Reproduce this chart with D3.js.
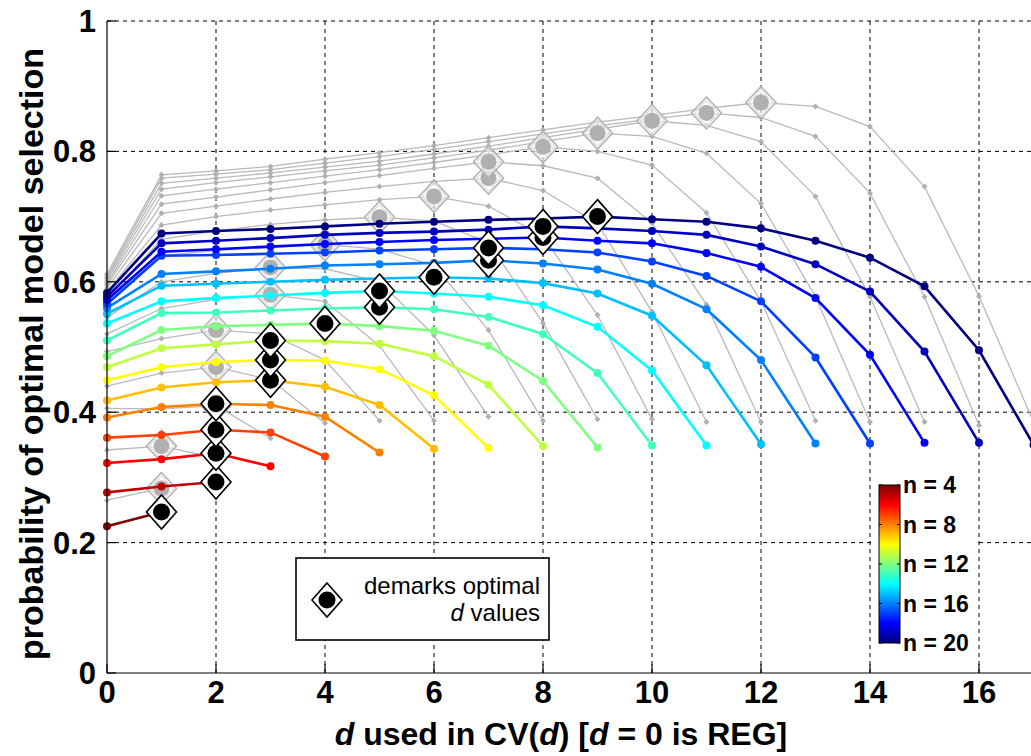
<!DOCTYPE html>
<html><head><meta charset="utf-8">
<script src="https://cdn.jsdelivr.net/npm/d3@7"></script>
<style>body{margin:0;background:#fff}svg{display:block}</style>
</head><body>
<svg id="c" width="1031" height="756"></svg>
<script>
// ---------------- data ----------------
const nValues = [4,5,6,7,8,9,10,11,12,13,14,15,16,17,18,19,20];
// coloured series: probability at d = 0..(n-3)
const c04 = [0.225, 0.247];
const c05 = [0.277, 0.286, 0.293];
const c06 = [0.322, 0.328, 0.337, 0.317];
const c07 = [0.361, 0.365, 0.373, 0.369, 0.332];
const c08 = [0.392, 0.408, 0.413, 0.411, 0.393, 0.338];
const c09 = [0.418, 0.438, 0.446, 0.449, 0.439, 0.411, 0.344];
const c10 = [0.449, 0.469, 0.477, 0.480, 0.479, 0.466, 0.426, 0.345];
const c11 = [0.469, 0.498, 0.504, 0.510, 0.509, 0.505, 0.486, 0.442, 0.348];
const c12 = [0.486, 0.526, 0.532, 0.534, 0.536, 0.532, 0.525, 0.502, 0.448, 0.346];
const c13 = [0.510, 0.552, 0.553, 0.556, 0.559, 0.561, 0.558, 0.546, 0.520, 0.460, 0.349];
const c14 = [0.536, 0.570, 0.575, 0.579, 0.583, 0.586, 0.582, 0.577, 0.564, 0.531, 0.464, 0.349];
const c15 = [0.551, 0.594, 0.597, 0.600, 0.603, 0.605, 0.607, 0.605, 0.598, 0.582, 0.548, 0.472, 0.351];
const c16 = [0.560, 0.612, 0.616, 0.620, 0.625, 0.627, 0.629, 0.633, 0.628, 0.619, 0.597, 0.558, 0.480, 0.352];
const c17 = [0.566, 0.640, 0.641, 0.643, 0.645, 0.648, 0.650, 0.652, 0.650, 0.645, 0.631, 0.609, 0.570, 0.484, 0.352];
const c18 = [0.572, 0.646, 0.650, 0.654, 0.658, 0.661, 0.664, 0.666, 0.668, 0.663, 0.659, 0.644, 0.623, 0.575, 0.488, 0.353];
const c19 = [0.577, 0.659, 0.663, 0.667, 0.672, 0.675, 0.677, 0.680, 0.685, 0.682, 0.678, 0.672, 0.654, 0.627, 0.585, 0.493, 0.353];
const c20 = [0.583, 0.674, 0.678, 0.681, 0.685, 0.689, 0.692, 0.695, 0.697, 0.700, 0.696, 0.692, 0.682, 0.663, 0.637, 0.593, 0.495, 0.350];
const colouredOptD = [1,2,2,2,2,3,3,3,4,5,5,6,7,7,8,8,9];

// grey series (same n, light grey)
const g04 = [0.265, 0.283];
const g05 = [0.342, 0.348, 0.330];
const g06 = [0.406, 0.405, 0.410, 0.360];
const g07 = [0.440, 0.460, 0.469, 0.450, 0.383];
const g08 = [0.493, 0.513, 0.526, 0.520, 0.480, 0.387];
const g09 = [0.520, 0.559, 0.573, 0.580, 0.570, 0.502, 0.387];
const g10 = [0.545, 0.600, 0.613, 0.622, 0.620, 0.600, 0.518, 0.393];
const g11 = [0.565, 0.640, 0.648, 0.653, 0.657, 0.650, 0.625, 0.526, 0.387];
const g12 = [0.575, 0.665, 0.678, 0.688, 0.695, 0.699, 0.693, 0.660, 0.537, 0.389];
const g13 = [0.585, 0.687, 0.700, 0.710, 0.718, 0.726, 0.731, 0.716, 0.670, 0.549, 0.389];
const g14 = [0.590, 0.705, 0.716, 0.727, 0.737, 0.746, 0.754, 0.759, 0.740, 0.690, 0.554, 0.385];
const g15 = [0.595, 0.719, 0.730, 0.741, 0.752, 0.763, 0.774, 0.784, 0.778, 0.759, 0.690, 0.565, 0.385];
const g16 = [0.598, 0.732, 0.742, 0.752, 0.762, 0.772, 0.783, 0.795, 0.807, 0.800, 0.779, 0.706, 0.570, 0.387];
const g17 = [0.602, 0.742, 0.752, 0.761, 0.770, 0.779, 0.790, 0.802, 0.815, 0.828, 0.823, 0.797, 0.720, 0.577, 0.385];
const g18 = [0.605, 0.751, 0.759, 0.767, 0.776, 0.785, 0.796, 0.808, 0.821, 0.834, 0.847, 0.840, 0.815, 0.731, 0.577, 0.385];
const g19 = [0.608, 0.759, 0.765, 0.772, 0.782, 0.792, 0.803, 0.815, 0.827, 0.839, 0.850, 0.859, 0.852, 0.823, 0.736, 0.577, 0.380];
const g20 = [0.612, 0.764, 0.770, 0.777, 0.788, 0.798, 0.809, 0.821, 0.833, 0.845, 0.855, 0.866, 0.875, 0.869, 0.838, 0.746, 0.578, 0.385];
const greyOptD = [1,1,2,2,2,3,3,4,5,6,7,7,8,9,10,11,12];

const xTicks = [0,2,4,6,8,10,12,14,16];
const yTicks = [0,0.2,0.4,0.6,0.8,1];
const yTickLabels = ["0","0.2","0.4","0.6","0.8","1"];
const colorbarTicks = [4,8,12,16,20];
const colorbarLabels = ["n = 4","n = 8","n = 12","n = 16","n = 20"];

const colouredSeries = [c04,c05,c06,c07,c08,c09,c10,c11,c12,c13,c14,c15,c16,c17,c18,c19,c20];
const greySeries = [g04,g05,g06,g07,g08,g09,g10,g11,g12,g13,g14,g15,g16,g17,g18,g19,g20];

// ---------------- drawing ----------------
const FONT = "'Liberation Sans', Arial, Helvetica, sans-serif";
const svg = d3.select("#c");
const x = d3.scaleLinear().domain([0,17]).range([107,1033.5]);
const y = d3.scaleLinear().domain([0,1]).range([673,21]);

function jet(t){
  const c = v => Math.max(0, Math.min(1, v));
  return d3.rgb(255*c(1.5-Math.abs(4*t-3)), 255*c(1.5-Math.abs(4*t-2)), 255*c(1.5-Math.abs(4*t-1))).formatHex();
}
const nColor = d3.scaleLinear().domain([20,4]).range([0,1]);
const colorOf = n => jet(nColor(n));

svg.append("rect").attr("width",1031).attr("height",756).attr("fill","#fff");

// grid
const grid = svg.append("g").attr("stroke","#000").attr("stroke-width",1).attr("stroke-dasharray","4,4");
grid.selectAll("line.v").data(xTicks.filter(t=>t>0)).join("line")
  .attr("x1",d=>x(d)).attr("x2",d=>x(d)).attr("y1",y(0)).attr("y2",y(1));
grid.selectAll("line.h").data(yTicks.filter(t=>t>0)).join("line")
  .attr("x1",x(0)).attr("x2",x(17)).attr("y1",d=>y(d)).attr("y2",d=>y(d));

const line = d3.line().x((v,i)=>x(i)).y(v=>y(v));
const diamondPath = (cx,cy,w,h) => `M${cx},${cy-h}L${cx+w},${cy}L${cx},${cy+h}L${cx-w},${cy}Z`;

// grey lines
const gG = svg.append("g");
greySeries.forEach(s=>{
  gG.append("path").attr("d",line(s)).attr("fill","none").attr("stroke","#b9b9b9").attr("stroke-width",1.3);
  gG.selectAll(null).data(s).join("path")
    .attr("d",(v,i)=>diamondPath(x(i),y(v),3,3)).attr("fill","#b0b0b0");
});
// grey optimal diamonds
greySeries.forEach((s,k)=>{
  const d = greyOptD[k], cx = x(d), cy = y(s[d]);
  gG.append("path").attr("d",diamondPath(cx,cy,15,16)).attr("fill","#fff").attr("fill-opacity",0.6)
    .attr("stroke","#b4b4b4").attr("stroke-width",1.6);
  gG.append("path").attr("d",diamondPath(cx,cy,12,13)).attr("fill","none")
    .attr("stroke","#d0d0d0").attr("stroke-width",1);
  gG.append("circle").attr("cx",cx).attr("cy",cy).attr("r",8).attr("fill","#b0b0b0");
});

// coloured lines
const cG = svg.append("g");
colouredSeries.forEach((s,k)=>{
  const col = colorOf(nValues[k]);
  cG.append("path").attr("d",line(s)).attr("fill","none").attr("stroke",col).attr("stroke-width",2.6);
  cG.selectAll(null).data(s).join("circle")
    .attr("cx",(v,i)=>x(i)).attr("cy",v=>y(v)).attr("r",4).attr("fill",col);
});
// black optimal diamonds
colouredSeries.forEach((s,k)=>{
  const d = colouredOptD[k], cx = x(d), cy = y(s[d]);
  cG.append("path").attr("d",diamondPath(cx,cy,15,17)).attr("fill","#fff").attr("stroke","#000").attr("stroke-width",1.6);
  cG.append("circle").attr("cx",cx).attr("cy",cy).attr("r",8.5).attr("fill","#000");
});

// axes lines and ticks
const ax = svg.append("g").attr("stroke","#000").attr("stroke-width",1.2);
ax.append("line").attr("x1",x(0)).attr("x2",x(0)).attr("y1",y(1)).attr("y2",y(0));
ax.append("line").attr("x1",x(0)).attr("x2",1031).attr("y1",y(0)).attr("y2",y(0));
ax.selectAll("line.xt").data(xTicks).join("line")
  .attr("x1",d=>x(d)).attr("x2",d=>x(d)).attr("y1",y(0)).attr("y2",y(0)-9);
ax.selectAll("line.yt").data(yTicks).join("line")
  .attr("x1",x(0)).attr("x2",x(0)+9).attr("y1",d=>y(d)).attr("y2",d=>y(d));

// tick labels
svg.append("g").selectAll("text").data(xTicks).join("text")
  .attr("x",d=>x(d)).attr("y",y(0)+30).attr("text-anchor","middle")
  .attr("font-family",FONT).attr("font-weight","bold").attr("font-size",31).text(d=>d);
svg.append("g").selectAll("text").data(yTicks).join("text")
  .attr("x",x(0)-11).attr("y",d=>y(d)+11).attr("text-anchor","end")
  .attr("font-family",FONT).attr("font-weight","bold").attr("font-size",31).text((d,i)=>yTickLabels[i]);

// axis titles
const xt = svg.append("text").attr("x",561).attr("y",745).attr("text-anchor","middle")
  .attr("font-family",FONT).attr("font-weight","bold").attr("font-size",32);
[["d",true],[" used in CV(",false],["d",true],[") [",false],["d",true],[" = 0 is REG]",false]].forEach(([t,it])=>{
  xt.append("tspan").attr("font-style",it?"italic":"normal").text(t);
});
svg.append("text").attr("transform","translate(43,354) rotate(-90)").attr("text-anchor","middle")
  .attr("font-family",FONT).attr("font-weight","bold").attr("font-size",34)
  .text("probability of optimal model selection");

// legend box
const lg = svg.append("g");
lg.append("rect").attr("x",296).attr("y",558).attr("width",253).attr("height",82)
  .attr("fill","#fff").attr("stroke","#000").attr("stroke-width",1.6);
lg.append("path").attr("d",diamondPath(327,600,15,17)).attr("fill","#fff").attr("stroke","#000").attr("stroke-width",1.6);
lg.append("circle").attr("cx",327).attr("cy",600).attr("r",8.5).attr("fill","#000");
lg.append("text").attr("x",540).attr("y",594).attr("text-anchor","end")
  .attr("font-family",FONT).attr("font-size",24).text("demarks optimal");
const l2 = lg.append("text").attr("x",540).attr("y",621).attr("text-anchor","end")
  .attr("font-family",FONT).attr("font-size",24);
l2.append("tspan").attr("font-style","italic").text("d");
l2.append("tspan").text(" values");

// colorbar
const cb = svg.append("g");
cb.append("rect").attr("x",872).attr("y",478).attr("width",105).attr("height",174).attr("fill","#fff");
const cbY = d3.scaleLinear().domain([4,20]).range([485,643]);
const defs = svg.append("defs");
const grad = defs.append("linearGradient").attr("id","jetgrad").attr("x1",0).attr("x2",0).attr("y1",0).attr("y2",1);
d3.range(4,20.01,0.5).forEach(n=>{
  grad.append("stop").attr("offset",(n-4)/16).attr("stop-color",colorOf(n));
});
cb.append("rect").attr("x",879).attr("y",cbY(4)).attr("width",21).attr("height",cbY(20)-cbY(4))
  .attr("fill","url(#jetgrad)").attr("stroke","#000").attr("stroke-width",1);
cb.selectAll("line.t1").data(colorbarTicks).join("line")
  .attr("x1",879).attr("x2",882).attr("y1",d=>cbY(d)).attr("y2",d=>cbY(d)).attr("stroke","#000");
cb.selectAll("line.t2").data(colorbarTicks).join("line")
  .attr("x1",897).attr("x2",900).attr("y1",d=>cbY(d)).attr("y2",d=>cbY(d)).attr("stroke","#000");
cb.selectAll("text").data(colorbarTicks).join("text")
  .attr("x",903).attr("y",d=>cbY(d)+8).attr("font-family",FONT).attr("font-weight","bold").attr("font-size",23)
  .text((d,i)=>colorbarLabels[i]);
</script>
</body></html>
